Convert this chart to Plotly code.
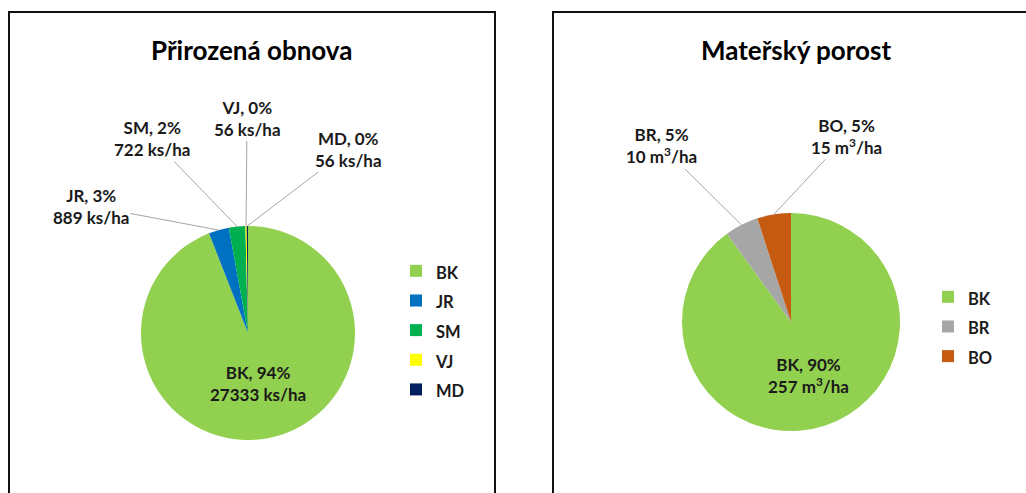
import math
import plotly.graph_objects as go

# ---------------- data ----------------
left_title = "Přirozená obnova"
left_species = ["BK", "JR", "SM", "VJ", "MD"]
left_density = [27333, 889, 722, 56, 56]          # ks/ha
left_pct = [94, 3, 2, 0, 0]                        # % as printed
left_colors = ["#92D050", "#0070C0", "#00B050", "#FFFF00", "#002060"]

right_title = "Mateřský porost"
right_species = ["BK", "BR", "BO"]
right_volume = [257, 10, 15]                       # m3/ha
right_pct = [90, 5, 5]                             # % share (slice sizes)
right_colors = ["#92D050", "#A6A6A6", "#C55A11"]

# ---------------- layout constants (pixels) ----------------
W, H = 1026, 493
FONT = "Lato"
TXT = "#1a1a1a"
LEFT_PIE = dict(cx=248, cy=333, r=107)
RIGHT_PIE = dict(cx=791, cy=322, r=109)
# label offsets (text centre relative to leader-line tip), pixels
left_offsets = {"JR": (-128, -24), "SM": (-85, -88), "VJ": (1, -108), "MD": (101, -77)}
right_offsets = {"BR": (-80, -79), "BO": (73, -78)}


def px(x):
    return x / W


def py(y):
    return 1 - y / H


def domain(p):
    return dict(x=[px(p["cx"] - p["r"]), px(p["cx"] + p["r"])],
                y=[py(p["cy"] + p["r"]), py(p["cy"] - p["r"])])


def legend_label(s, tag):
    # distinct style strings keep the two pies' legend entries separate
    return '<span style="font-size:16.5px;%s">%s</span>' % (tag, s)


def mid_angles(values):
    tot = float(sum(values))
    out, cum = [], 0.0
    for v in values:
        out.append((cum + v / 2.0) / tot * 2 * math.pi)
        cum += v
    return out


def point_on(p, ang, frac):
    x = p["cx"] + frac * p["r"] * math.sin(ang)
    y = p["cy"] - frac * p["r"] * math.cos(ang)
    return px(x), py(y)


fig = go.Figure()

fig.add_trace(go.Pie(
    labels=[legend_label(s, "") for s in left_species], values=left_density,
    domain=domain(LEFT_PIE), sort=False, direction="clockwise", rotation=0,
    marker=dict(colors=left_colors, line=dict(width=0)),
    textinfo="none", legend="legend", name=left_title,
))
fig.add_trace(go.Pie(
    labels=[legend_label(s, "font-style:normal") for s in right_species], values=right_pct,
    domain=domain(RIGHT_PIE), sort=False, direction="clockwise", rotation=0,
    marker=dict(colors=right_colors, line=dict(width=0)),
    textinfo="none", legend="legend2", name=right_title,
))

ann = []
lab_font = dict(family=FONT, size=17, color=TXT, weight="bold")
common = dict(xref="paper", yref="paper", xanchor="center", yanchor="middle")

# left pie labels
angs = mid_angles(left_density)
for i, sp in enumerate(left_species):
    text = "%s, %d%%<br>%d ks/ha" % (sp, left_pct[i], left_density[i])
    if sp == "BK":
        x, y = point_on(LEFT_PIE, angs[i], 0.48)
        ann.append(dict(x=x, y=y, text=text, showarrow=False, font=lab_font, **common))
    else:
        x, y = point_on(LEFT_PIE, angs[i], 1.0)
        dx, dy = left_offsets[sp]
        ann.append(dict(x=x, y=y, text=text, showarrow=True, arrowhead=0, arrowwidth=1,
                        arrowcolor="#A6A6A6", ax=dx, ay=dy, standoff=0, font=lab_font, **common))

# right pie labels
angs = mid_angles(right_pct)
for i, sp in enumerate(right_species):
    text = "%s, %d%%<br>%d m<sup>3</sup>/ha" % (sp, right_pct[i], right_volume[i])
    if sp == "BK":
        x, y = point_on(RIGHT_PIE, angs[i], 0.52)
        ann.append(dict(x=x, y=y, text=text, showarrow=False, font=lab_font, **common))
    else:
        x, y = point_on(RIGHT_PIE, angs[i], 1.0)
        dx, dy = right_offsets[sp]
        ann.append(dict(x=x, y=y, text=text, showarrow=True, arrowhead=0, arrowwidth=1,
                        arrowcolor="#A6A6A6", ax=dx, ay=dy, standoff=0, font=lab_font, **common))

# titles
title_font = dict(family=FONT, size=26, color="#000000", weight="bold")
ann.append(dict(x=px(251), y=py(50), text=left_title, showarrow=False, font=title_font, **common))
ann.append(dict(x=px(796), y=py(50), text=right_title, showarrow=False, font=title_font, **common))

shapes = [
    dict(type="rect", xref="paper", yref="paper", x0=px(9), x1=px(495), y0=-0.2, y1=py(12),
         line=dict(color="#111111", width=2), fillcolor="rgba(0,0,0,0)", layer="below"),
    dict(type="rect", xref="paper", yref="paper", x0=px(553), x1=1.2, y0=-0.2, y1=py(12),
         line=dict(color="#111111", width=2), fillcolor="rgba(0,0,0,0)", layer="below"),
]

leg_font = dict(family=FONT, size=20.5, color=TXT, weight="bold")
fig.update_layout(
    width=W, height=H, margin=dict(l=0, r=0, t=0, b=0),
    paper_bgcolor="white", plot_bgcolor="white",
    annotations=ann, shapes=shapes,
    legend=dict(x=px(396), y=py(251), xanchor="left", yanchor="top",
                font=leg_font, bgcolor="rgba(0,0,0,0)", traceorder="normal"),
    legend2=dict(x=px(928), y=py(277), xanchor="left", yanchor="top",
                 font=leg_font, bgcolor="rgba(0,0,0,0)", traceorder="normal"),
)

fig.write_html("out.html", config={"displayModeBar": False},
               post_script="document.body.style.margin='0';")
